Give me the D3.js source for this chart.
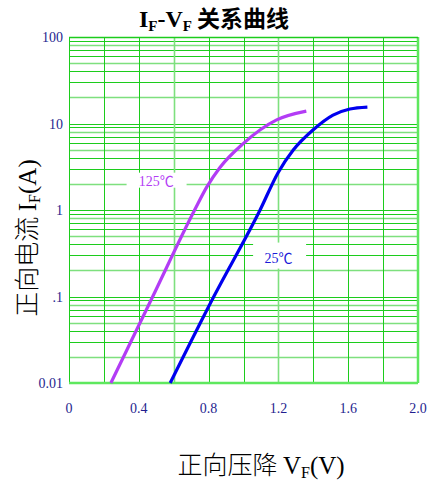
<!DOCTYPE html>
<html>
<head>
<meta charset="utf-8">
<script src="https://cdn.jsdelivr.net/npm/d3@7"></script>
<style>
  body { margin: 0; background: #fff; }
  text { font-family: "Liberation Serif", "Noto Sans CJK SC", serif; }
</style>
</head>
<body>
<script>
// forward current vs forward voltage
var vf125 = [0.24, 0.48, 0.72, 0.79, 0.865, 1.0, 1.19, 1.36];
var if125 = [0.01, 0.10, 1.0, 1.85, 3.1, 5.9, 11.0, 13.9];
var vf25 = [0.58, 0.83, 1.095, 1.198, 1.284, 1.398, 1.513, 1.61, 1.71];
var if25 = [0.01, 0.10, 1.0, 2.7, 4.9, 8.4, 12.5, 14.7, 15.5];
var xTicks = [0, 0.4, 0.8, 1.2, 1.6, 2.0];
var xTickLabels = ["0", "0.4", "0.8", "1.2", "1.6", "2.0"];
var yTicks = [100, 10, 1, 0.1, 0.01];
var yTickLabels = ["100", "10", "1", ".1", "0.01"];

var margin = {top: 37, right: 9, bottom: 99, left: 69}
  , width = 427 - margin.left - margin.right
  , height = 482 - margin.top - margin.bottom;

var svg = d3.select("body").append("svg")
    .attr("width", 427)
    .attr("height", 482);

var g = svg.append("g")
    .attr("transform", "translate(" + margin.left + "," + margin.top + ")");

var x = d3.scaleLinear().domain([0, 2]).range([0, width]);
var y = d3.scaleLog().domain([0.01, 100]).range([height, 0]);

var green = "#1ccc1c", lightGreen = "#7ee07e";

// horizontal grid: every log tick 1..9 per decade
g.selectAll(".hgrid")
    .data(y.ticks())
    .enter().append("line")
    .attr("class", "hgrid")
    .attr("x1", 0).attr("x2", width)
    .attr("y1", function (d) { return Math.round(y(d)) + 0.5; })
    .attr("y2", function (d) { return Math.round(y(d)) + 0.5; })
    .attr("stroke", function (d, i) { return i % 3 == 1 ? lightGreen : green; })
    .attr("stroke-width", function (d, i) { return i % 3 == 1 ? 1.6 : 1; });

// vertical grid every 0.2 V
g.selectAll(".vgrid")
    .data(d3.range(0, 2.01, 0.2))
    .enter().append("line")
    .attr("class", "vgrid")
    .attr("y1", 0).attr("y2", height)
    .attr("x1", function (d) { return Math.round(x(d)) + 0.5; })
    .attr("x2", function (d) { return Math.round(x(d)) + 0.5; })
    .attr("stroke", function (d, i) { return (i == 3 || i == 6) ? lightGreen : green; })
    .attr("stroke-width", function (d, i) { return (i == 3 || i == 6) ? 1.6 : 1; });

// border (bottom and right look lighter/thicker)
g.append("line").attr("x1", 0).attr("x2", width).attr("y1", height).attr("y2", height)
    .attr("stroke", "#5ee85e").attr("stroke-width", 2.5);
g.append("line").attr("x1", width).attr("x2", width).attr("y1", 0).attr("y2", height)
    .attr("stroke", "#5ee85e").attr("stroke-width", 2.5);
g.append("line").attr("x1", 0).attr("x2", width).attr("y1", 0.5).attr("y2", 0.5)
    .attr("stroke", green).attr("stroke-width", 1.5);

// white boxes behind the curve labels
g.append("rect").attr("x", x(0.33)).attr("y", y(2.7)).attr("width", 60).attr("height", 15)
    .attr("fill", "#fff");
g.append("rect").attr("x", x(1.055)).attr("y", y(0.42)).attr("width", 53).attr("height", 26)
    .attr("fill", "#fff");

var line = d3.line()
    .x(function (d) { return x(d[0]); })
    .y(function (d) { return y(d[1]); })
    .curve(d3.curveMonotoneX);

g.append("path")
    .datum(d3.zip(vf125, if125))
    .attr("d", line)
    .attr("fill", "none")
    .attr("stroke", "#b33cf5")
    .attr("stroke-width", 3.2);

g.append("path")
    .datum(d3.zip(vf25, if25))
    .attr("d", line)
    .attr("fill", "none")
    .attr("stroke", "#0000ee")
    .attr("stroke-width", 3.2);

g.append("text")
    .attr("x", x(0.5)).attr("y", y(2.7) + 13)
    .attr("text-anchor", "middle")
    .attr("font-size", 14)
    .attr("fill", "#b33cf5")
    .text("125℃");

g.append("text")
    .attr("x", x(1.2)).attr("y", y(0.42) + 20)
    .attr("text-anchor", "middle")
    .attr("font-size", 14)
    .attr("fill", "#1a1ad8")
    .text("25℃");

// tick labels
var navy = "#1f1f8f";
g.selectAll(".xlab")
    .data(xTicks)
    .enter().append("text")
    .attr("class", "xlab")
    .attr("x", function (d) { return x(d); })
    .attr("y", height + 30)
    .attr("text-anchor", "middle")
    .attr("font-size", 14)
    .attr("fill", navy)
    .text(function (d, i) { return xTickLabels[i]; });

g.selectAll(".ylab")
    .data(yTicks)
    .enter().append("text")
    .attr("class", "ylab")
    .attr("x", -6)
    .attr("y", function (d) { return y(d) + 5; })
    .attr("text-anchor", "end")
    .attr("font-size", 14)
    .attr("fill", navy)
    .text(function (d, i) { return yTickLabels[i]; });

// title
var title = svg.append("text")
    .attr("x", 214).attr("y", 27)
    .attr("text-anchor", "middle")
    .attr("font-weight", "bold")
    .attr("font-size", 24)
    .attr("fill", "#000");
title.append("tspan").text("I");
title.append("tspan").attr("font-size", 15).attr("dy", 4).text("F");
title.append("tspan").attr("dy", -4).text("-V");
title.append("tspan").attr("font-size", 15).attr("dy", 4).text("F");
title.append("tspan").attr("dy", -4).attr("font-family", "Noto Sans CJK SC").attr("font-size", 23).text(" 关系曲线");

// axis titles
var ytitle = svg.append("text")
    .attr("transform", "translate(36,238) rotate(-90)")
    .attr("text-anchor", "middle")
    .attr("font-size", 25)
    .attr("fill", "#000");
ytitle.append("tspan").attr("font-family", "Noto Sans CJK SC").attr("font-weight", 300).text("正向电流 ");
ytitle.append("tspan").text("I");
ytitle.append("tspan").attr("font-size", 16).attr("dy", 4).text("F");
ytitle.append("tspan").attr("dy", -4).text("(A)");

var xtitle = svg.append("text")
    .attr("x", 261).attr("y", 474)
    .attr("text-anchor", "middle")
    .attr("font-size", 25)
    .attr("fill", "#000");
xtitle.append("tspan").attr("font-family", "Noto Sans CJK SC").attr("font-weight", 300).text("正向压降  ");
xtitle.append("tspan").text("V");
xtitle.append("tspan").attr("font-size", 16).attr("dy", 4).text("F");
xtitle.append("tspan").attr("dy", -4).text("(V)");
</script>
</body>
</html>
